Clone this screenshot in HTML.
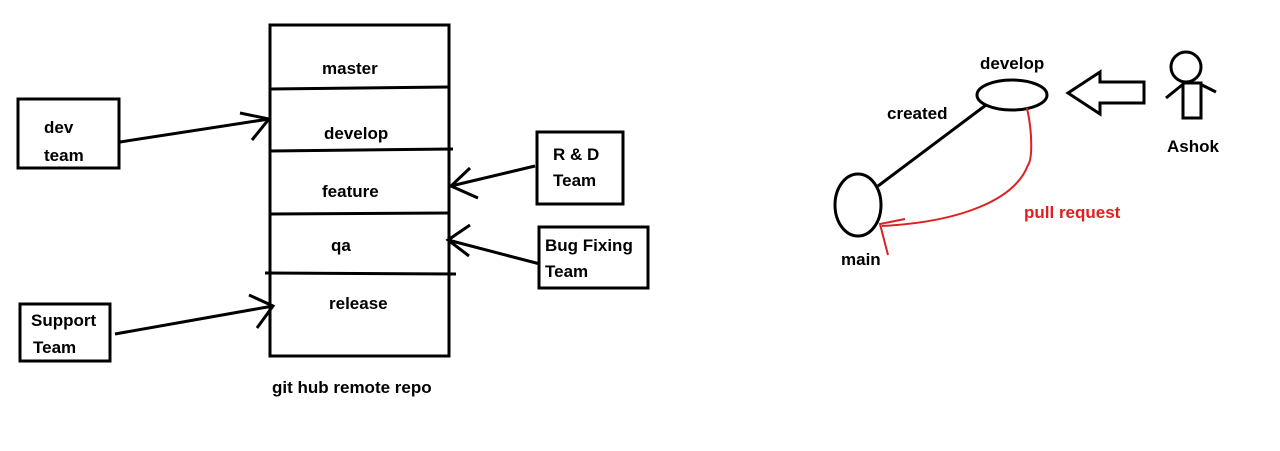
<!DOCTYPE html>
<html><head><meta charset="utf-8"><style>
html,body{margin:0;padding:0;background:#fff;}
svg{display:block;}
text{font-family:"Liberation Sans",sans-serif;font-weight:bold;font-size:17px;fill:#000;}
</style></head><body>
<svg width="1280" height="451" viewBox="0 0 1280 451" xmlns="http://www.w3.org/2000/svg">
<g fill="none" stroke="#000" stroke-width="3">
<rect x="270" y="25" width="179" height="331"/>
<line x1="270" y1="89" x2="449" y2="87"/>
<line x1="270" y1="151" x2="453" y2="149"/>
<line x1="270" y1="214" x2="449" y2="213"/>
<line x1="265" y1="273" x2="456" y2="274"/>
<rect x="18" y="99" width="101" height="69"/>
<rect x="20" y="304" width="90" height="57"/>
<rect x="537" y="132" width="86" height="72"/>
<rect x="539" y="227" width="109" height="61"/>
<line x1="120" y1="142" x2="269" y2="119"/>
<polyline points="240,113 269,119 252,140"/>
<line x1="115" y1="334" x2="273" y2="306"/>
<polyline points="249,295 273,306 257,328"/>
<line x1="535" y1="166" x2="451" y2="186"/>
<polyline points="470,168 451,186 478,198"/>
<line x1="540" y1="264" x2="448" y2="240"/>
<polyline points="470,225 448,240 469,256"/>
<ellipse cx="1012" cy="95" rx="35" ry="15"/>
<line x1="986" y1="105" x2="878" y2="186"/>
<ellipse cx="858" cy="205" rx="23" ry="31"/>
<polygon points="1068,93 1100,72 1100,82 1144,82 1144,103 1100,103 1100,114"/>
<circle cx="1186" cy="67" r="15"/>
<rect x="1183" y="83" width="18" height="35"/>
<line x1="1166" y1="98" x2="1182" y2="85"/>
<line x1="1202" y1="85" x2="1216" y2="92"/>
</g>
<g fill="none" stroke="#e02020" stroke-width="2">
<path d="M1027,108 C1033,135 1032,160 1028,165 C1015,200 960,222 882,226"/>
<path d="M905,219 L880,224 L888,255"/>
</g>
<text x="322" y="74">master</text>
<text x="324" y="139">develop</text>
<text x="322" y="197">feature</text>
<text x="331" y="251">qa</text>
<text x="329" y="309">release</text>
<text x="272" y="393">git hub remote repo</text>
<text x="44" y="133">dev</text>
<text x="44" y="161">team</text>
<text x="31" y="326">Support</text>
<text x="33" y="353">Team</text>
<text x="553" y="160">R &amp; D</text>
<text x="553" y="186">Team</text>
<text x="545" y="251">Bug Fixing</text>
<text x="545" y="277">Team</text>
<text x="980" y="69">develop</text>
<text x="887" y="119">created</text>
<text x="841" y="265">main</text>
<text x="1167" y="152">Ashok</text>
<text x="1024" y="218" style="fill:#e02020">pull request</text>
</svg>
</body></html>
